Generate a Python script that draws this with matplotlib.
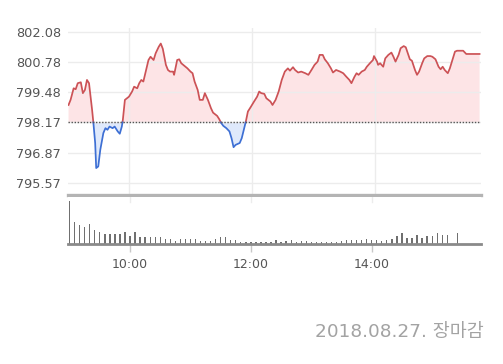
import matplotlib
matplotlib.use("Agg")
import matplotlib.pyplot as plt
import numpy as np

# ---------------- data ----------------
prev_close = 798.17
y_ticks = [795.57, 796.87, 798.17, 799.48, 800.78, 802.08]
x_tick_labels = ["10:00", "12:00", "14:00"]
x_tick_minutes = [60, 180, 300]          # minutes after 09:00

price_minutes = [1, 3, 6, 8, 10, 13, 15, 17, 19, 21, 24, 25, 27, 28, 30, 32, 35, 37, 39, 41,
                 44, 46, 49, 51, 53, 54, 56, 58, 60, 63, 65, 68, 70, 72, 74, 77, 79, 81, 84, 86,
                 89, 91, 93, 96, 98, 100, 103, 104, 107, 109, 111, 115, 117, 120, 122, 124, 127, 129, 132, 134,
                 137, 140, 142, 146, 148, 150, 152, 155, 158, 160, 162, 164, 168, 170, 172, 174, 176, 179, 182, 185,
                 187, 189, 192, 194, 198, 200, 203, 206, 209, 212, 215, 217, 220, 222, 225, 228, 232, 235, 238, 241,
                 244, 246, 249, 251, 254, 257, 259, 262, 266, 269, 272, 275, 277, 280, 282, 284, 287, 290, 292, 295,
                 298, 299, 302, 303, 305, 308, 310, 313, 316, 318, 320, 323, 325, 328, 330, 332, 334, 336, 339, 341,
                 343, 346, 348, 351, 354, 356, 359, 362, 364, 366, 368, 371, 373, 376, 378, 380, 384, 386, 389, 393,
                 398, 402]
price_values = [798.92, 799.14, 799.64, 799.60, 799.86, 799.90, 799.43, 799.57, 800.00, 799.86,
                798.71, 798.28, 797.28, 796.20, 796.27, 796.99, 797.71, 797.92, 797.85, 797.99,
                797.92, 797.99, 797.78, 797.68, 797.99, 798.28, 799.14, 799.21, 799.28, 799.50,
                799.71, 799.64, 799.86, 800.00, 799.93, 800.50, 800.86, 801.00, 800.86, 801.15,
                801.43, 801.57, 801.34, 800.65, 800.43, 800.36, 800.36, 800.22, 800.86, 800.89,
                800.72, 800.57, 800.50, 800.36, 800.29, 799.93, 799.57, 799.14, 799.14, 799.43,
                799.14, 798.78, 798.59, 798.45, 798.31, 798.14, 798.02, 797.92, 797.78, 797.49,
                797.10, 797.20, 797.28, 797.49, 797.85, 798.21, 798.64, 798.85, 799.07, 799.28,
                799.50, 799.43, 799.40, 799.21, 799.07, 798.92, 799.14, 799.50, 800.00, 800.36,
                800.50, 800.40, 800.55, 800.43, 800.32, 800.36, 800.29, 800.22, 800.43, 800.65,
                800.79, 801.08, 801.08, 800.89, 800.72, 800.50, 800.32, 800.43, 800.36, 800.29,
                800.14, 800.00, 799.86, 800.14, 800.29, 800.22, 800.36, 800.43, 800.57, 800.72,
                800.86, 801.03, 800.79, 800.65, 800.72, 800.57, 800.93, 801.08, 801.18, 801.00,
                800.79, 801.08, 801.37, 801.46, 801.41, 801.15, 800.89, 800.83, 800.43, 800.22,
                800.36, 800.72, 800.93, 801.03, 801.03, 801.00, 800.89, 800.57, 800.46, 800.57,
                800.43, 800.29, 800.50, 800.93, 801.22, 801.26, 801.26, 801.26, 801.12, 801.12,
                801.12, 801.12]

vol_times = ["09:00", "09:05", "09:10", "09:15", "09:20", "09:25", "09:30", "09:35", "09:40", "09:45",
             "09:50", "09:55", "10:00", "10:05", "10:10", "10:15", "10:20", "10:25", "10:30", "10:35",
             "10:40", "10:45", "10:50", "10:55", "11:00", "11:05", "11:10", "11:15", "11:20", "11:25",
             "11:30", "11:35", "11:40", "11:45", "11:50", "11:55", "12:00", "12:05", "12:10", "12:15",
             "12:20", "12:25", "12:30", "12:35", "12:40", "12:45", "12:50", "12:55", "13:00", "13:05",
             "13:10", "13:15", "13:20", "13:25", "13:30", "13:35", "13:40", "13:45", "13:50", "13:55",
             "14:00", "14:05", "14:10", "14:15", "14:20", "14:25", "14:30", "14:35", "14:40", "14:45",
             "14:50", "14:55", "15:00", "15:05", "15:10", "15:15", "15:25"]
vol_values = [426, 216, 183, 166, 200, 133, 116, 100, 100, 100,
              100, 116, 83, 116, 66, 66, 66, 66, 66, 50,
              50, 33, 50, 50, 50, 50, 33, 33, 33, 50,
              73, 70, 43, 40, 23, 23, 20, 20, 20, 20,
              20, 37, 23, 27, 37, 20, 27, 33, 23, 23,
              23, 23, 23, 23, 27, 37, 43, 37, 43, 50,
              43, 43, 27, 43, 50, 77, 110, 60, 60, 93,
              60, 83, 83, 110, 93, 93, 110]
footer_text = "2018.08.27. 장마감"

# ---------------- styling ----------------
W, H = 503, 364
fig = plt.figure(figsize=(W / 100, H / 100), dpi=100)
fig.patch.set_facecolor("white")

def px_box(x0, y0, x1, y1):
    return [x0 / W, 1 - y1 / H, (x1 - x0) / W, (y1 - y0) / H]

red_line, red_fill = "#cc5256", "#fde4e6"
blue_line, blue_fill = "#3d6fd4", "#dfe9fb"
grid_c = "#ececec"
label_c = "#555555"

ax = fig.add_axes(px_box(67.7, 28, 481, 194.5))
ax.set_xlim(0.2, 403.4)
ax.set_ylim(795.06, 802.24)

t = np.array(price_minutes, float)
v = np.array(price_values, float)

# insert crossing points of the previous-close level so colours switch exactly there
tt, vv = [t[0]], [v[0]]
for i in range(1, len(t)):
    a, b = v[i - 1] - prev_close, v[i] - prev_close
    if a * b < 0:
        f = a / (a - b)
        tt.append(t[i - 1] + f * (t[i] - t[i - 1]))
        vv.append(prev_close)
    tt.append(t[i]); vv.append(v[i])
tt, vv = np.array(tt), np.array(vv)

ax.fill_between(tt, vv, prev_close, where=vv >= prev_close, color=red_fill, lw=0, zorder=1)
ax.fill_between(tt, vv, prev_close, where=vv <= prev_close, color=blue_fill, lw=0, zorder=1)
up = np.where(vv >= prev_close, vv, np.nan)
dn = np.where(vv <= prev_close, vv, np.nan)
ax.plot(tt, up, color=red_line, lw=1.25, zorder=3, solid_joinstyle="round")
ax.plot(tt, dn, color=blue_line, lw=1.25, zorder=3, solid_joinstyle="round")
ax.axhline(prev_close, color="#555555", lw=1.0, ls=(0, (1, 1.2)), zorder=4)

ax.set_yticks(y_ticks)
ax.set_yticklabels([f"{y:.2f}" for y in y_ticks])
ax.set_xticks(x_tick_minutes)
ax.set_xticklabels([])
ax.grid(True, color=grid_c, lw=1.0, zorder=0)
ax.tick_params(axis="y", length=0, pad=5, labelsize=9.3, labelcolor=label_c)
ax.tick_params(axis="x", length=0)
for s in ["top", "right", "left"]:
    ax.spines[s].set_visible(False)
ax.spines["bottom"].set_color("#b4b4b4")
ax.spines["bottom"].set_linewidth(2.4)

# ---------------- volume ----------------
axv = fig.add_axes(px_box(67.7, 197, 481, 244))
axv.set_xlim(-1.9, 408.5)
axv.set_ylim(0, 463)
vol_min = [int(s[:2]) * 60 + int(s[3:]) - 540 for s in vol_times]
axv.bar(vol_min, vol_values, width=1.3, color="#707070", lw=0, zorder=2)
axv.set_yticks([])
axv.set_xticks(x_tick_minutes)
axv.set_xticklabels(x_tick_labels)
axv.tick_params(axis="x", length=6, width=1, color="#c8c8c8", pad=4,
                labelsize=9.0, labelcolor=label_c, direction="out")
for s in ["top", "right", "left"]:
    axv.spines[s].set_visible(False)
axv.spines["bottom"].set_color("#8a8a8a")
axv.spines["bottom"].set_linewidth(2.0)
for m in x_tick_minutes:
    axv.axvline(m, ymin=0.9, ymax=1.0, color=grid_c, lw=1.0, zorder=0)

fig.text(484 / W, 1 - 332 / H, footer_text, ha="right", va="center",
         fontsize=13.3, color="#a3a3a3", family=["DejaVu Sans", "Noto Sans CJK KR"])

fig.savefig("out.png", dpi=100, facecolor="white")
